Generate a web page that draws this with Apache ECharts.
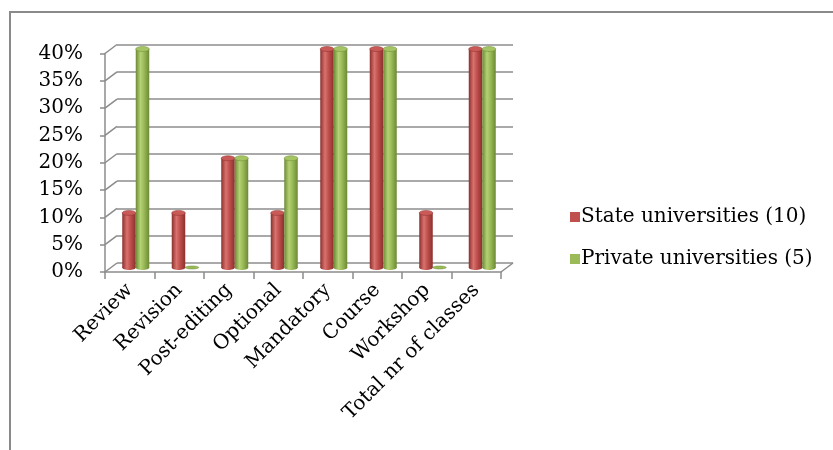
<!DOCTYPE html>
<html>
<head>
<meta charset="utf-8">
<script src="https://cdn.jsdelivr.net/npm/echarts@6/dist/echarts.min.js"></script>
<style>
html,body{margin:0;padding:0;background:#fff;}
#frame{position:absolute;left:9px;top:11px;width:840px;height:460px;border-left:2px solid #8a8a8a;border-top:2px solid #8a8a8a;}
#chart{position:absolute;left:0;top:0;width:833px;height:450px;}
</style>
</head>
<body>
<div id="frame"></div>
<div id="chart"></div>
<script>
const categories = ['Review','Revision','Post-editing','Optional','Mandatory','Course','Workshop','Total nr of classes'];
const stateUniv = [0.10, 0.10, 0.20, 0.10, 0.40, 0.40, 0.10, 0.40];
const privateUniv = [0.40, 0.00, 0.20, 0.20, 0.40, 0.40, 0.00, 0.40];
const seriesNames = ['State universities (10)', 'Private universities (5)'];
const yTicks = [0, 0.05, 0.10, 0.15, 0.20, 0.25, 0.30, 0.35, 0.40];

const FONT = 'DejaVu Serif';
const DX = 12, DY = -9;
const GL = 105, GT = 53.5, GW = 396, GH = 218.5;

const colors = [
  {base:'#C0504D', dark:'#8B302D', light:'#D9726E', top:'#C95A57'},
  {base:'#9BBB59', dark:'#6B8A35', light:'#B4D273', top:'#A5C463'}
];

function frameRender(params, api) {
  const cs = params.coordSys;
  const children = [];
  const st = {stroke:'#8c8c8c', lineWidth:1.5};
  yTicks.forEach(v => {
    const y = api.coord([0, v])[1];
    children.push({type:'line', shape:{x1:cs.x, y1:y, x2:cs.x+DX, y2:y+DY}, style:st});
  });
  const yb = api.coord([0, 0])[1];
  children.push({type:'line', shape:{x1:cs.x+cs.width, y1:yb, x2:cs.x+cs.width+DX, y2:yb+DY}, style:st});
  return {type:'group', children};
}

function barRender(sIdx) {
  return function(params, api) {
    const ci = api.value(0), v = api.value(1);
    const top = api.coord([ci, v]);
    const bot = api.coord([ci, 0]);
    const w = 13.5;
    const cx = top[0] + (sIdx === 0 ? -w/2 : w/2);
    const c = colors[sIdx];
    const ry = 2.5;
    const grad = new echarts.graphic.LinearGradient(0,0,1,0,[
      {offset:0, color:c.dark},{offset:0.35, color:c.light},{offset:0.6, color:c.base},{offset:1, color:c.dark}
    ]);
    const children = [];
    if (v > 0) {
      children.push({type:'rect', shape:{x:cx-w/2, y:top[1], width:w, height:bot[1]-top[1]}, style:{fill:grad}});
      children.push({type:'ellipse', shape:{cx:cx, cy:bot[1], rx:w/2, ry:ry}, style:{fill:grad}});
      children.push({type:'ellipse', shape:{cx:cx, cy:top[1], rx:w/2, ry:ry}, style:{fill:c.top, stroke:c.dark, lineWidth:0.5}});
    } else {
      children.push({type:'ellipse', shape:{cx:cx, cy:bot[1], rx:w/2, ry:1.5}, style:{fill:c.base, stroke:c.dark, lineWidth:0.5}});
    }
    return {type:'group', children};
  };
}

const chart = echarts.init(document.getElementById('chart'), null, {renderer:'canvas'});
chart.setOption({
  animation:false,
  textStyle:{fontFamily:FONT},
  grid:[
    {left:GL, top:GT, width:GW, height:GH},
    {left:GL+DX, top:GT+DY, width:GW, height:GH},
    {left:GL+DX/2, top:GT+DY/2, width:GW, height:GH}
  ],
  legend:{
    orient:'vertical', left:565, top:202, itemGap:22,
    itemWidth:10, itemHeight:10, icon:'rect',
    textStyle:{fontFamily:FONT, fontSize:20, color:'#000', padding:[0,0,0,-4]},
    data:seriesNames
  },
  xAxis:[
    {type:'category', gridIndex:0, data:categories, boundaryGap:true,
     axisLine:{show:true, lineStyle:{color:'#8c8c8c', width:1.5}},
     axisTick:{show:true, length:7, alignWithLabel:false, lineStyle:{color:'#8c8c8c', width:1.5}},
     axisLabel:{rotate:45, fontFamily:FONT, fontSize:20, color:'#000', margin:15, interval:0},
     splitLine:{show:false}},
    {type:'category', gridIndex:1, data:categories, show:false},
    {type:'category', gridIndex:2, data:categories, show:false}
  ],
  yAxis:[
    {type:'value', gridIndex:0, min:0, max:0.4, interval:0.05,
     axisLine:{show:true, lineStyle:{color:'#8c8c8c', width:1.5}},
     axisTick:{show:true, length:5, lineStyle:{color:'#8c8c8c', width:1.5}},
     axisLabel:{fontFamily:FONT, fontSize:20, color:'#000', margin:22,
       formatter:v => Math.round(v*100) + '%'},
     splitLine:{show:false}},
    {type:'value', gridIndex:1, min:0, max:0.4, interval:0.05,
     axisLine:{show:false}, axisTick:{show:false}, axisLabel:{show:false},
     splitLine:{show:true, lineStyle:{color:'#8c8c8c', width:1.5}}},
    {type:'value', gridIndex:2, min:0, max:0.4, interval:0.05, show:false, splitLine:{show:false}}
  ],
  series:[
    {type:'custom', name:'frame', xAxisIndex:0, yAxisIndex:0, data:[[0,0]], renderItem:frameRender, silent:true, z:1},
    {type:'custom', name:seriesNames[0], xAxisIndex:2, yAxisIndex:2,
     itemStyle:{color:colors[0].base},
     data:stateUniv.map((v,i)=>[i,v]), renderItem:barRender(0), z:3},
    {type:'custom', name:seriesNames[1], xAxisIndex:2, yAxisIndex:2,
     itemStyle:{color:colors[1].base},
     data:privateUniv.map((v,i)=>[i,v]), renderItem:barRender(1), z:3}
  ]
});
</script>
</body>
</html>
